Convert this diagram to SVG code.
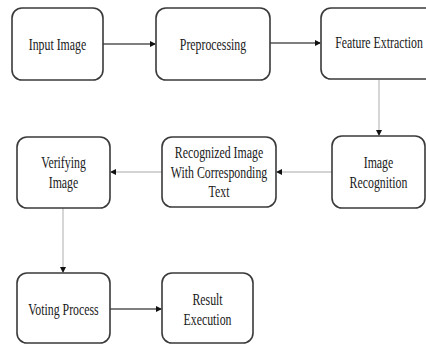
<svg xmlns="http://www.w3.org/2000/svg" width="426" height="345" viewBox="0 0 426 345">
<style>
.box{fill:#fff;stroke:#3a3a3a;stroke-width:1.6}
.lbl{font-family:'Liberation Serif','Times New Roman',Times,serif;font-size:16px;fill:#1a1a1a;text-anchor:middle}
.dark{stroke:#555;stroke-width:1.4;fill:none}
.light{stroke:#c4c4c4;stroke-width:1.4;fill:none}
</style>
<defs>
<marker id="ah" markerWidth="6" markerHeight="6" refX="5" refY="3" orient="auto" markerUnits="userSpaceOnUse">
<path d="M0,0 L6,3 L0,6 Z" fill="#111"/>
</marker>
</defs>
<rect width="426" height="345" fill="#fff"/>
<g id="connectors">
<path class="dark" d="M103,44 L155,44" marker-end="url(#ah)"/>
<path class="dark" d="M270,43 L320,43" marker-end="url(#ah)"/>
<path class="light" d="M379,80 L379,135" marker-end="url(#ah)"/>
<path class="light" d="M332,172 L277,172" marker-end="url(#ah)"/>
<path class="light" d="M162,172 L111,172" marker-end="url(#ah)"/>
<path class="light" d="M63,208 L63,272" marker-end="url(#ah)"/>
<path class="dark" d="M110,309 L161,309" marker-end="url(#ah)"/>
</g>
<g id="input-image">
<rect class="box" x="12" y="8" width="91" height="72" rx="10"/>
<text class="lbl" transform="translate(57.5,50) scale(0.74,1)">Input Image</text>
</g>
<g id="preprocessing">
<rect class="box" x="156" y="8" width="114" height="72" rx="10"/>
<text class="lbl" transform="translate(213,50) scale(0.74,1)">Preprocessing</text>
</g>
<g id="feature-extraction">
<rect class="box" x="321" y="8" width="116" height="71" rx="10"/>
<text class="lbl" transform="translate(379,48) scale(0.74,1)">Feature Extraction</text>
</g>
<g id="image-recognition">
<rect class="box" x="332" y="136" width="93" height="72" rx="10"/>
<text class="lbl" transform="translate(378.5,0) scale(0.74,1)"><tspan x="0" y="168">Image</tspan><tspan x="0" y="188">Recognition</tspan></text>
</g>
<g id="recognized-image">
<rect class="box" x="162" y="137" width="114" height="70" rx="10"/>
<text class="lbl" transform="translate(219,0) scale(0.74,1)"><tspan x="0" y="158">Recognized Image</tspan><tspan x="0" y="178">With Corresponding</tspan><tspan x="0" y="197">Text</tspan></text>
</g>
<g id="verifying-image">
<rect class="box" x="17" y="137" width="93" height="71" rx="10"/>
<text class="lbl" transform="translate(63.5,0) scale(0.74,1)"><tspan x="0" y="168">Verifying</tspan><tspan x="0" y="188">Image</tspan></text>
</g>
<g id="voting-process">
<rect class="box" x="17" y="273" width="93" height="70" rx="10"/>
<text class="lbl" transform="translate(63.5,315) scale(0.74,1)">Voting Process</text>
</g>
<g id="result-execution">
<rect class="box" x="162" y="273" width="91" height="70" rx="10"/>
<text class="lbl" transform="translate(207.5,0) scale(0.74,1)"><tspan x="0" y="305">Result</tspan><tspan x="0" y="325">Execution</tspan></text>
</g>
</svg>
